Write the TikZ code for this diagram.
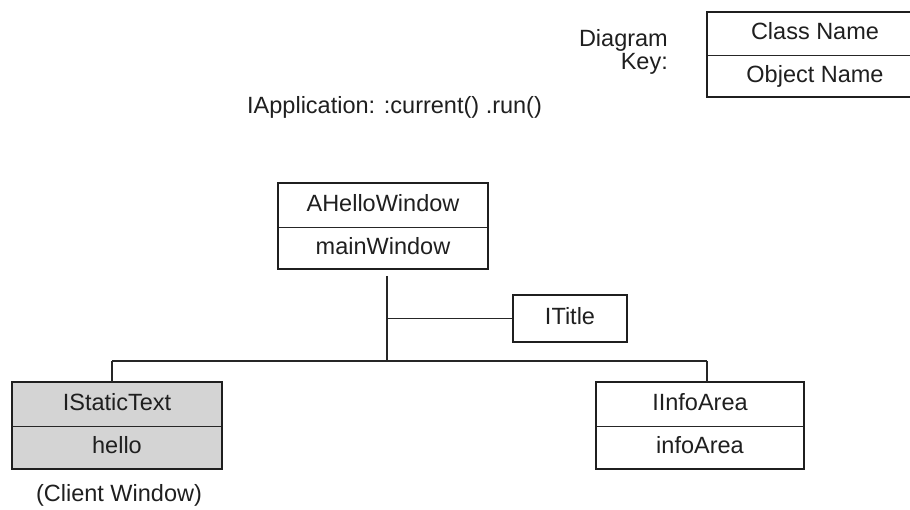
\documentclass[tikz,border=0pt]{standalone}
\usepackage{fontspec}
\setmainfont{Liberation Sans}
\begin{document}
\begin{tikzpicture}[x=1pt,y=-1pt,
  every node/.style={font=\fontsize{23.5}{27}\selectfont, text=black!88, inner sep=0pt},
  cell/.style={text height=16.8pt, text depth=4pt},
  divider/.style={draw=black!85, line width=1pt},
  frame/.style={draw=black!88, line width=2.2pt},
  link/.style={draw=black!85, line width=1.1pt},
  shaded/.style={fill=black!17}]
\useasboundingbox (0,0) rectangle (910,510);

% diagram key
\node[anchor=base east] (keyA) at (668,47) {Diagram};
\node[anchor=base east] (keyB) at (668,70) {Key:};
\node[cell, minimum width=216, minimum height=43] (keyClass) at (815,33.5) {Class Name};
\node[cell, minimum width=216, minimum height=42] (keyObj) at (815,76) {Object Name};
\draw[divider] (keyClass.south west) -- (keyClass.south east);
\draw[frame] (keyClass.north west) rectangle (keyObj.south east);

% application call
\node[anchor=base west] (app) at (247,114) {IApplication: :current() .run()};

% main window
\node[cell, minimum width=210, minimum height=44] (hwClass) at (383,205) {AHelloWindow};
\node[cell, minimum width=210, minimum height=42] (hwObj) at (383,248) {mainWindow};
\draw[divider] (hwClass.south west) -- (hwClass.south east);
\draw[frame] (hwClass.north west) rectangle (hwObj.south east);

% title
\node[cell, draw=black!88, line width=2.2pt, minimum width=114, minimum height=47] (title) at (570,318.5) {ITitle};

% static text (client window)
\fill[shaded] (12,382) rectangle (222,469);
\node[cell, minimum width=210, minimum height=44] (stClass) at (117,404) {IStaticText};
\node[cell, minimum width=210, minimum height=43] (stObj) at (117,447.5) {hello};
\draw[divider] (stClass.south west) -- (stClass.south east);
\draw[frame] (stClass.north west) rectangle (stObj.south east);
\node[anchor=base] (client) at (119,501) {(Client Window)};

% info area
\node[cell, minimum width=208, minimum height=44] (iaClass) at (700,404) {IInfoArea};
\node[cell, minimum width=208, minimum height=43] (iaObj) at (700,447.5) {infoArea};
\draw[divider] (iaClass.south west) -- (iaClass.south east);
\draw[frame] (iaClass.north west) rectangle (iaObj.south east);

% connectors
\coordinate (trunkTop) at (387,276);
\coordinate (trunkMid) at (387,318.5);
\coordinate (bus) at (387,361);
\coordinate (busL) at (112,361);
\coordinate (busR) at (707,361);
\draw[link] (trunkTop) -- (bus);
\draw[link] (trunkMid) -- (title.west);
\draw[link] (busL) -- (busR);
\draw[link] (busL) -- (busL |- stClass.north);
\draw[link] (busR) -- (busR |- iaClass.north);
\end{tikzpicture}
\end{document}
